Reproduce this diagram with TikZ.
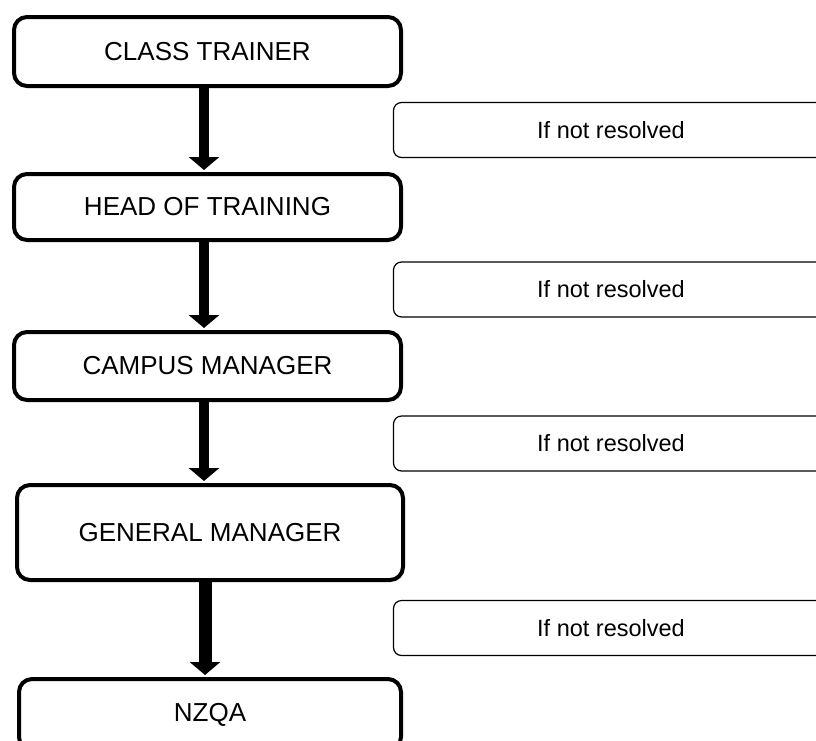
\documentclass[tikz,border=0pt]{standalone}
\usepackage{fontspec}
\setmainfont{Liberation Sans}
\usetikzlibrary{arrows.meta}
\begin{document}
\begin{tikzpicture}[x=1pt,y=-1pt,
  level/.style={draw=black, line width=4pt, rounded corners=13pt, fill=white,
    minimum width=387pt, inner sep=0pt, font=\fontsize{26}{30}\selectfont},
  note/.style={draw=black, line width=1.2pt, rounded corners=8pt, fill=white,
    minimum width=435pt, minimum height=55pt, inner sep=0pt, font=\fontsize{23.5}{28}\selectfont},
  flow/.style={line width=10pt, -{Triangle[width=30pt,length=13pt]}, shorten >=2pt}]
\useasboundingbox (0,0) rectangle (816,740);
\clip (0,0) rectangle (816,740);
\node[level, minimum height=69pt] (b1) at (207.5,51.5) {CLASS TRAINER};
\node[level, minimum height=66pt] (b2) at (207.5,207) {HEAD OF TRAINING};
\node[level, minimum height=68pt] (b3) at (207.5,366) {CAMPUS MANAGER};
\node[level, minimum height=95pt, minimum width=386pt] (b4) at (210,532.5) {GENERAL MANAGER};
\node[level, minimum height=71pt, minimum width=382pt] (b5) at (210,714.5) {NZQA};
\node[note] (n1) at (611,130) {If not resolved};
\node[note] (n2) at (611,289.5) {If not resolved};
\node[note] (n3) at (611,443.5) {If not resolved};
\node[note] (n4) at (611,628) {If not resolved};
\coordinate (ax) at (204,0);
\coordinate (ax4) at (205,0);
\draw[flow] (b1.south -| ax) -- (b2.north -| ax);
\draw[flow] (b2.south -| ax) -- (b3.north -| ax);
\draw[flow] (b3.south -| ax) -- (b4.north -| ax);
\draw[flow, line width=13pt] (b4.south -| ax4) -- (b5.north -| ax4);
\end{tikzpicture}
\end{document}
